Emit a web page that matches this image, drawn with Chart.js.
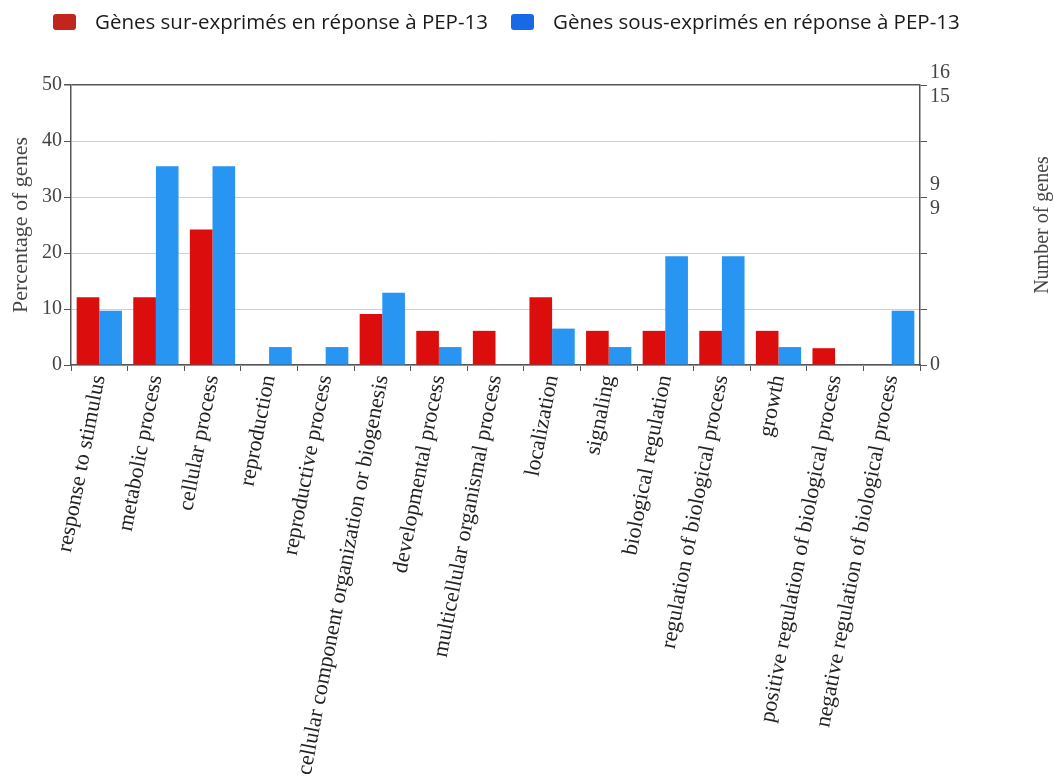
<!DOCTYPE html>
<html>
<head>
<meta charset="utf-8">
<script src="https://cdn.jsdelivr.net/npm/chart.js@4/dist/chart.umd.min.js"></script>
<style>
  html, body { margin: 0; padding: 0; background: #fff; }
  #wrap { width: 1054px; height: 780px; }
</style>
</head>
<body>
<div id="wrap"><canvas id="c" width="1054" height="780"></canvas></div>
<script>
const categories = [
  'response to stimulus', 'metabolic process', 'cellular process', 'reproduction',
  'reproductive process', 'cellular component organization or biogenesis',
  'developmental process', 'multicellular organismal process', 'localization',
  'signaling', 'biological regulation', 'regulation of biological process',
  'growth', 'positive regulation of biological process',
  'negative regulation of biological process'
];
const upLabel = 'Gènes sur-exprimés en réponse à PEP-13';
const downLabel = 'Gènes sous-exprimés en réponse à PEP-13';
const upPct = [12.1, 12.1, 24.2, 0, 0, 9.1, 6.1, 6.1, 12.1, 6.1, 6.1, 6.1, 6.1, 3.0, 0];
const downPct = [9.7, 35.5, 35.5, 3.2, 3.2, 12.9, 3.2, 0, 6.5, 3.2, 19.4, 19.4, 3.2, 0, 9.7];
const leftTicks = [0, 10, 20, 30, 40, 50];
const rightTickValues = [0, 30, 50];
const rightTickLabels = [['0'], ['9', '9'], ['16', '15']];
const leftTitle = 'Percentage of genes';
const rightTitle = 'Number of genes';

const SERIF = '"Liberation Serif", "Times New Roman", serif';
const barRed = '#dc0d0d';
const barBlue = '#2795f1';
const legRed = '#c0261b';
const legBlue = '#1769e6';

const customDraw = {
  id: 'customDraw',
  afterDraw(chart) {
    const ctx = chart.ctx;
    ctx.save();
    // legend
    const items = [
      { x: 53, color: legRed, text: chart.data.datasets[0].label },
      { x: 511, color: legBlue, text: chart.data.datasets[1].label }
    ];
    ctx.font = '20.5px "Open Sans", sans-serif';
    ctx.textBaseline = 'middle';
    ctx.textAlign = 'left';
    items.forEach(it => {
      ctx.fillStyle = it.color;
      ctx.beginPath();
      if (ctx.roundRect) ctx.roundRect(it.x, 14, 23, 16, 3); else ctx.rect(it.x, 14, 23, 16);
      ctx.fill();
      ctx.fillStyle = '#1a1a1a';
      ctx.fillText(it.text, it.x + 42, 23);
    });
    // right axis title (reads bottom-to-top)
    ctx.font = '20px ' + SERIF;
    ctx.fillStyle = '#444';
    ctx.translate(1043, (chart.chartArea.top + chart.chartArea.bottom) / 2);
    ctx.rotate(-Math.PI / 2);
    ctx.textAlign = 'center';
    ctx.fillText(rightTitle, 0, 0);
    ctx.restore();
  }
};

new Chart(document.getElementById('c'), {
  type: 'bar',
  data: {
    labels: categories,
    datasets: [
      { label: upLabel, data: upPct, backgroundColor: barRed, yAxisID: 'y' },
      { label: downLabel, data: downPct, backgroundColor: barBlue, yAxisID: 'y' }
    ]
  },
  options: {
    responsive: false,
    animation: false,
    layout: { padding: { top: 85, left: 0, right: 0, bottom: 0 } },
    datasets: { bar: { categoryPercentage: 0.8, barPercentage: 1.0 } },
    plugins: { legend: { display: false }, tooltip: { enabled: false } },
    scales: {
      x: {
        grid: { offset: true, drawOnChartArea: false, tickLength: 6, tickColor: '#555' },
        border: { color: '#555', width: 1.5 },
        ticks: {
          autoSkip: false, minRotation: 79, maxRotation: 79, padding: 2,
          color: '#222', font: { family: SERIF, size: 22 }
        },
        afterFit(s) { s.height = 780 - 365; }
      },
      y: {
        position: 'left',
        min: 0, max: 50,
        afterBuildTicks(s) { s.ticks = leftTicks.map(v => ({ value: v })); },
        grid: {
          color: c => (c.tick && c.tick.value === 50) ? '#555' : '#d0d0d0',
          lineWidth: c => (c.tick && c.tick.value === 50) ? 1.5 : 1,
          tickLength: 7, tickColor: '#555'
        },
        border: { color: '#555', width: 1.5 },
        ticks: { color: '#444', padding: 2, font: { family: SERIF, size: 20 } },
        title: { display: true, text: leftTitle, color: '#444', padding: { top: 8, bottom: 0 }, font: { family: SERIF, size: 22 } },
        afterFit(s) { s.width = 71; }
      },
      y2: {
        position: 'right',
        min: 0, max: 50,
        afterBuildTicks(s) { s.ticks = leftTicks.map(v => ({ value: v })); },
        grid: { drawOnChartArea: false, tickLength: 7, tickColor: '#555' },
        border: { color: '#555', width: 1.5 },
        ticks: {
          color: '#444', padding: 3, font: { family: SERIF, size: 20 },
          callback: v => { const i = rightTickValues.indexOf(v); return i >= 0 ? rightTickLabels[i] : ''; }
        },
        afterFit(s) { s.width = 1054 - 920; }
      }
    }
  },
  plugins: [customDraw]
});
</script>
</body>
</html>
